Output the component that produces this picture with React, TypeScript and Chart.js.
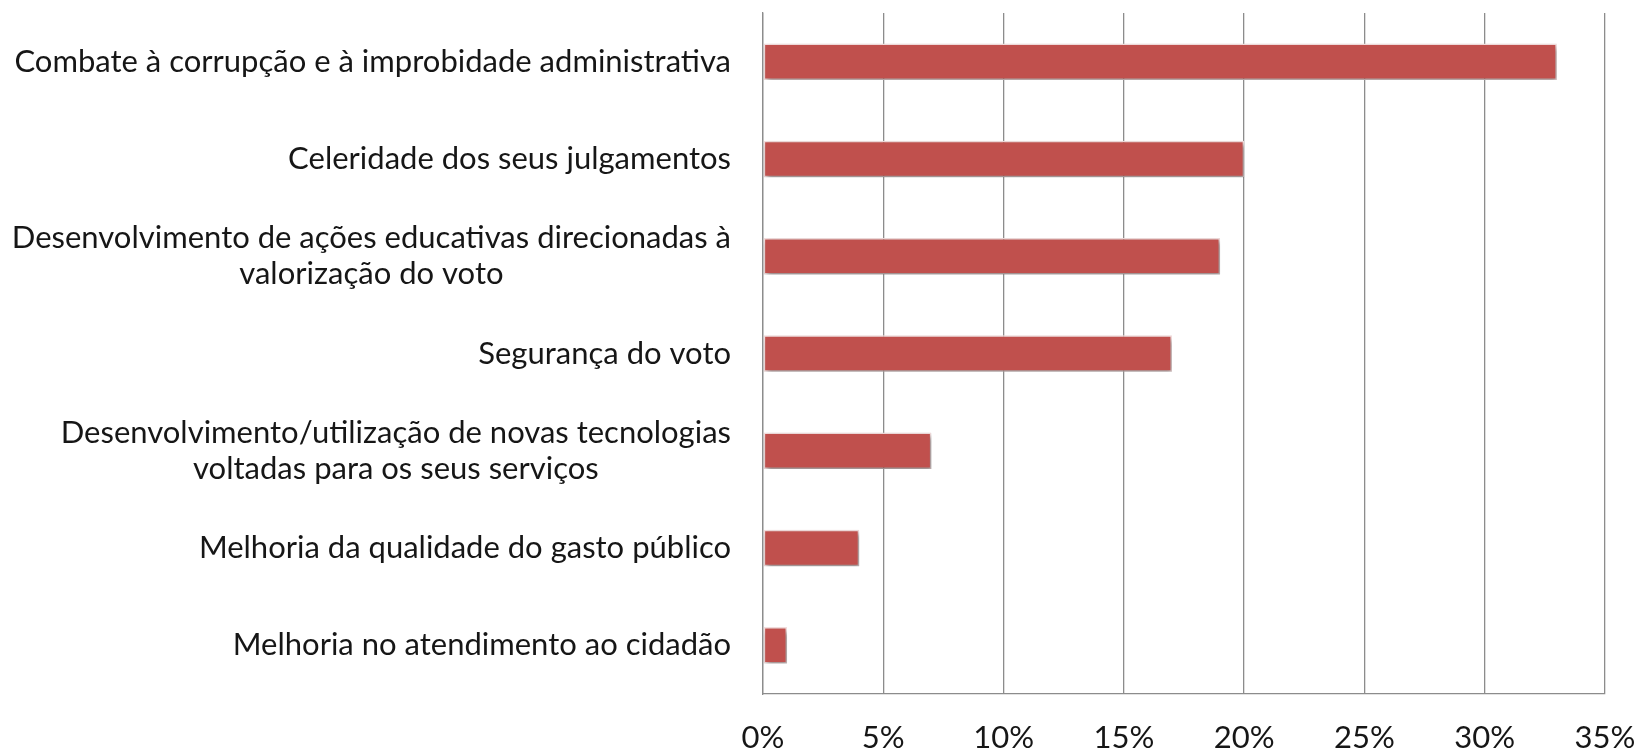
import React, { useEffect, useRef } from "react";
import { Chart, registerables } from "chart.js";

Chart.register(...registerables);

const categories: string[][] = [
  ["Combate à corrupção e à improbidade administrativa"],
  ["Celeridade dos seus julgamentos"],
  ["Desenvolvimento de ações educativas direcionadas à", "valorização do voto"],
  ["Segurança do voto"],
  ["Desenvolvimento/utilização de novas tecnologias", "voltadas para os seus serviços"],
  ["Melhoria da qualidade do gasto público"],
  ["Melhoria no atendimento ao cidadão"],
];
const values: number[] = [33, 20, 19, 17, 7, 4, 1];
const xTicks: number[] = [0, 5, 10, 15, 20, 25, 30, 35];

const FONT_FAMILY = "Lato, 'Liberation Sans', sans-serif";
const FONT_SIZE = 31;
const TEXT_COLOR = "#161616";
const GRID_COLOR = "#8c8c8c";

const labelPlugin = {
  id: "centeredYLabels",
  afterDraw(chart: any) {
    const ctx = chart.ctx;
    const yScale = chart.scales.y;
    const rightEdge = chart.chartArea.left - 32;
    const lineH = 35.5;
    ctx.save();
    ctx.font = `${FONT_SIZE}px ${FONT_FAMILY}`;
    ctx.fillStyle = TEXT_COLOR;
    ctx.textAlign = "center";
    ctx.textBaseline = "middle";
    categories.forEach((lines, i) => {
      const y = yScale.getPixelForValue(i);
      const maxW = Math.max(...lines.map((l) => ctx.measureText(l).width));
      const cx = rightEdge - maxW / 2;
      lines.forEach((l, j) => {
        ctx.fillText(l, cx, y + (j - (lines.length - 1) / 2) * lineH);
      });
    });
    ctx.restore();
  },
};

const shadowPlugin = {
  id: "barShadow",
  beforeDatasetDraw(chart: any) {
    const ctx = chart.ctx;
    ctx.save();
    ctx.shadowColor = "rgba(0,0,0,0.4)";
    ctx.shadowBlur = 5;
    ctx.shadowOffsetX = 2;
    ctx.shadowOffsetY = 3;
  },
  afterDatasetDraw(chart: any) {
    chart.ctx.restore();
  },
};

export default function App() {
  const ref = useRef<HTMLCanvasElement | null>(null);
  useEffect(() => {
    document.body.style.margin = "0";
    const canvas = ref.current!;
    const chart = new Chart(canvas, {
      type: "bar",
      data: {
        labels: categories.map((c) => c.join(" ")),
        datasets: [
          {
            data: values,
            backgroundColor: "#C0504D",
            borderColor: "#f3dede",
            borderWidth: 1.5,
            borderSkipped: false,
            barPercentage: 0.375,
            categoryPercentage: 1,
          },
        ],
      },
      options: {
        indexAxis: "y",
        animation: false,
        responsive: false,
        maintainAspectRatio: false,
        layout: { padding: { top: 13, right: 32, left: 0, bottom: 0 } },
        plugins: {
          legend: { display: false },
          tooltip: { enabled: false },
        },
        scales: {
          x: {
            type: "linear",
            min: 0,
            max: 35,
            afterBuildTicks: (scale: any) => {
              scale.ticks = xTicks.map((v) => ({ value: v }));
            },
            ticks: {
              callback: (v: any) => `${v}%`,
              font: { family: FONT_FAMILY, size: FONT_SIZE },
              color: TEXT_COLOR,
              padding: 25,
              maxRotation: 0,
            },
            grid: {
              display: true,
              color: GRID_COLOR,
              lineWidth: 1.3,
              drawTicks: false,
            },
            border: { display: true, color: GRID_COLOR, width: 1.3 },
            afterFit: (scale: any) => {
              scale.height = 59;
              scale.paddingLeft = 0;
              scale.paddingRight = 0;
            },
          },
          y: {
            type: "category",
            ticks: { display: false },
            grid: { display: false, drawTicks: false },
            border: { display: true, color: GRID_COLOR, width: 1.3 },
            afterFit: (scale: any) => {
              scale.width = 763;
            },
          },
        },
      },
      plugins: [shadowPlugin, labelPlugin],
    });
    return () => chart.destroy();
  }, []);
  return <canvas ref={ref} width={1637} height={753} style={{ display: "block" }} />;
}
